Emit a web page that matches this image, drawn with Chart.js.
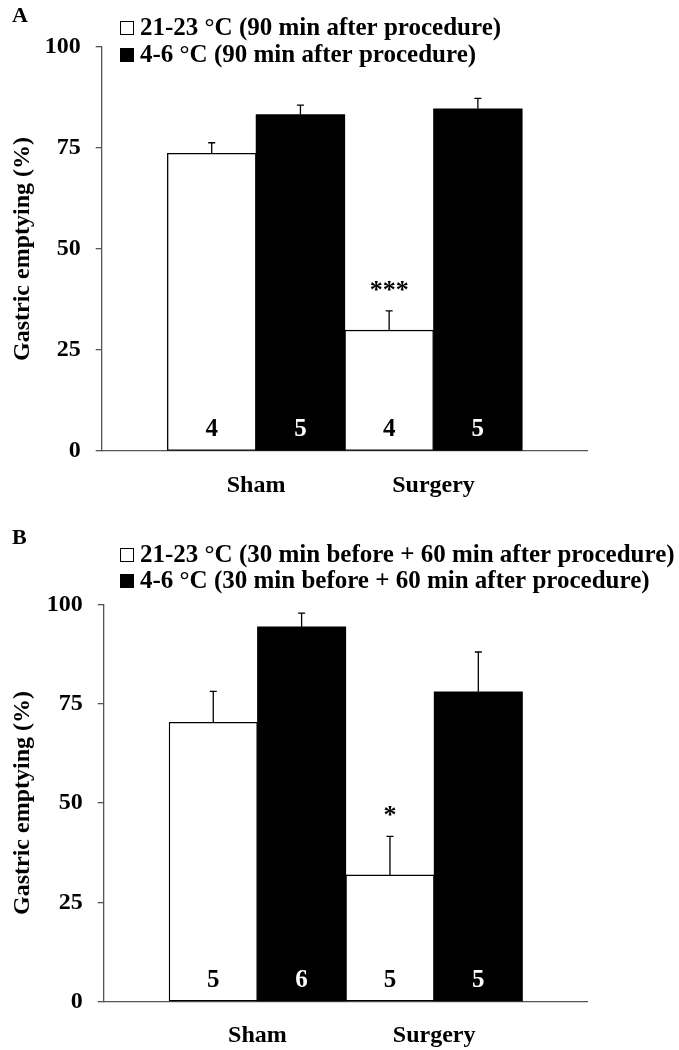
<!DOCTYPE html>
<html>
<head>
<meta charset="utf-8">
<title>Gastric emptying</title>
<script src="https://cdn.jsdelivr.net/npm/chart.js@4.4.1/dist/chart.umd.min.js"></script>
<style>
    html, body { margin: 0; padding: 0; background: #fff; }
    canvas { display: block; }
</style>
</head>
<body>
<canvas id="chartA" width="679" height="525"></canvas>
<canvas id="chartB" width="679" height="525"></canvas>
<script>
// ============================================
// DATA
// ============================================
const groups = ['Sham', 'Surgery'];
const groupPos = [1, 2];
const yTicks = [0, 25, 50, 75, 100];

// Panel A - 90 min after procedure
const legendA = ['21-23 °C (90 min after procedure)', '4-6 °C (90 min after procedure)'];
const warmA = [73.7, 29.9];
const warmErrA = [2.6, 4.8];
const coldA = [83.3, 84.7];
const coldErrA = [2.3, 2.6];
const warmNA = [4, 4];
const coldNA = [5, 5];
const signifA = ['', '***'];

// Panel B - 30 min before + 60 min after procedure
const legendB = ['21-23 °C (30 min before + 60 min after procedure)', '4-6 °C (30 min before + 60 min after procedure)'];
const warmB = [70.3, 31.9];
const warmErrB = [7.8, 9.7];
const coldB = [94.3, 78.0];
const coldErrB = [3.5, 10.0];
const warmNB = [5, 5];
const coldNB = [6, 5];
const signifB = ['', '*'];

const FONT = "'Liberation Serif', 'Times New Roman', serif";
Chart.defaults.font.family = FONT;
Chart.defaults.color = '#000';

// ============================================
// PLUGINS
// ============================================
// error bars (upper only), n per bar, significance stars
const barExtras = {
    id: 'barExtras',
    afterDatasetsDraw(chart) {
        const ctx = chart.ctx;
        const yScale = chart.scales.y;
        const baseY = yScale.getPixelForValue(0);

        chart.data.datasets.forEach((ds, di) => {
            const meta = chart.getDatasetMeta(di);
            meta.data.forEach((bar, i) => {
                const errY = yScale.getPixelForValue(ds.data[i].y + ds.errors[i]);
                ctx.save();
                ctx.strokeStyle = '#000';
                ctx.lineWidth = 1.3;
                ctx.beginPath();
                ctx.moveTo(bar.x, bar.y);
                ctx.lineTo(bar.x, errY);
                ctx.moveTo(bar.x - 3.5, errY);
                ctx.lineTo(bar.x + 3.5, errY);
                ctx.stroke();

                ctx.textAlign = 'center';
                ctx.textBaseline = 'alphabetic';
                ctx.font = 'bold 25px ' + FONT;
                ctx.fillStyle = ds.textColor;
                ctx.fillText(String(ds.counts[i]), bar.x, baseY - 15);

                if (ds.marks && ds.marks[i]) {
                    ctx.fillStyle = '#000';
                    ctx.font = 'bold 26px ' + FONT;
                    ctx.fillText(ds.marks[i], bar.x, errY - 13);
                }
                ctx.restore();
            });
        });
    }
};

// panel letter + legend stacked at top left
function makeDecor(letter, letterY, rowY) {
    return {
        id: 'decor',
        afterDraw(chart) {
            const ctx = chart.ctx;
            ctx.save();
            ctx.fillStyle = '#000';
            ctx.textAlign = 'left';
            ctx.textBaseline = 'middle';
            ctx.font = 'bold 22px ' + FONT;
            ctx.fillText(letter, 12, letterY);

            chart.data.datasets.forEach((ds, i) => {
                const y = rowY[i];
                ctx.fillStyle = ds.backgroundColor;
                ctx.fillRect(120.5, y - 6.5, 13, 13);
                ctx.strokeStyle = '#000';
                ctx.lineWidth = 1;
                ctx.strokeRect(120.5, y - 6.5, 13, 13);
                ctx.fillStyle = '#000';
                ctx.font = 'bold 25px ' + FONT;
                ctx.fillText(ds.label, 140, y + 1);
            });
            ctx.restore();
        }
    };
}

// ============================================
// CHART
// ============================================
function initPanelChart(canvasId, p) {
    const ctx = document.getElementById(canvasId);
    if (!ctx) return;

    const points = vals => vals.map((v, i) => ({ x: groupPos[i], y: v }));

    new Chart(ctx, {
        type: 'bar',
        data: {
            datasets: [{
                label: p.legend[0],
                data: points(p.warm),
                errors: p.warmErr,
                counts: p.warmN,
                marks: p.signif,
                textColor: '#000',
                backgroundColor: '#fff',
                borderColor: '#000',
                borderWidth: 1.3,
                borderSkipped: false
            }, {
                label: p.legend[1],
                data: points(p.cold),
                errors: p.coldErr,
                counts: p.coldN,
                textColor: '#fff',
                backgroundColor: '#000',
                borderColor: '#000',
                borderWidth: 0
            }]
        },
        options: {
            responsive: false,
            animation: false,
            devicePixelRatio: 1,
            layout: {
                padding: { top: p.top, right: 92, left: 0, bottom: 0 }
            },
            plugins: {
                legend: { display: false },
                tooltip: { enabled: false }
            },
            datasets: {
                bar: { categoryPercentage: 1, barPercentage: 1 }
            },
            scales: {
                x: {
                    type: 'linear',
                    min: 0.13,
                    max: 2.865,
                    bounds: 'data',
                    offset: false,
                    grid: { display: false, drawTicks: false, offset: false },
                    border: { display: true, color: '#555', width: 1.3 },
                    ticks: {
                        autoSkip: false,
                        maxRotation: 0,
                        padding: 20,
                        color: '#000',
                        font: { size: 24, weight: 'bold' },
                        callback: (v, i) => groups[i]
                    },
                    afterBuildTicks: s => { s.ticks = groupPos.map(v => ({ value: v })); },
                    afterFit: s => { s.height = p.bottom; }
                },
                y: {
                    min: 0,
                    max: 100,
                    grid: { drawOnChartArea: false, drawTicks: true, tickLength: 6, color: '#555', lineWidth: 1.3 },
                    border: { color: '#555', width: 1.3 },
                    ticks: {
                        padding: 15,
                        color: '#000',
                        font: { size: 24, weight: 'bold' }
                    },
                    afterBuildTicks: s => { s.ticks = yTicks.map(v => ({ value: v })); },
                    title: {
                        display: true,
                        text: 'Gastric emptying (%)',
                        color: '#000',
                        font: { size: 24, weight: 'bold' },
                        padding: { top: 8, bottom: 0 }
                    },
                    afterFit: s => { s.width = p.left; }
                }
            }
        },
        plugins: [makeDecor(p.letter, p.letterY, p.rowY), barExtras]
    });
}

initPanelChart('chartA', {
    letter: 'A', letterY: 16, rowY: [28, 55],
    top: 47, bottom: 74, left: 101.7,
    legend: legendA,
    warm: warmA, warmErr: warmErrA, warmN: warmNA,
    cold: coldA, coldErr: coldErrA, coldN: coldNA,
    signif: signifA
});

initPanelChart('chartB', {
    letter: 'B', letterY: 13, rowY: [30, 56],
    top: 79.3, bottom: 48.3, left: 103.7,
    legend: legendB,
    warm: warmB, warmErr: warmErrB, warmN: warmNB,
    cold: coldB, coldErr: coldErrB, coldN: coldNB,
    signif: signifB
});
</script>
</body>
</html>
